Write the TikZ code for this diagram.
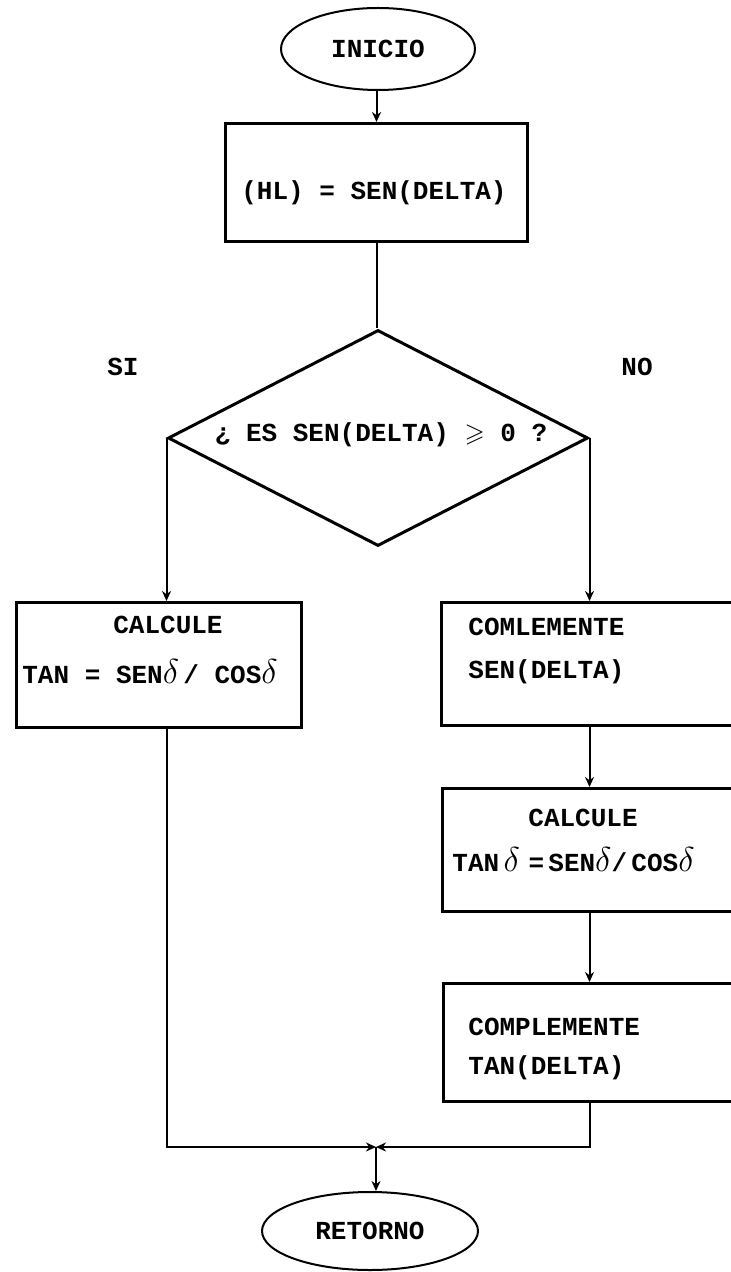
\documentclass[tikz,border=0pt]{standalone}
\usepackage{amsmath}
\usepackage{amssymb}
\usepackage{fontspec}
\newfontfamily\maqfont{Liberation Mono}
\usetikzlibrary{arrows.meta,shapes.geometric}
\newcommand{\dlt}{{\fontsize{18}{18}\selectfont$\delta$}}

\begin{document}
\begin{tikzpicture}[x=0.5pt,y=-0.5pt,>={Stealth[length=5pt,width=4.5pt]},
    caja/.style={draw,line width=1.5pt,inner sep=0pt,anchor=north west},
    ovalo/.style={draw,ellipse,line width=1pt,inner sep=0pt,font=\maqfont\bfseries\fontsize{13}{15}\selectfont},
    texto/.style={font=\maqfont\bfseries\fontsize{13}{15}\selectfont,inner sep=0pt},
    flujo/.style={line width=1pt}]
        \useasboundingbox (0,0) rectangle (731,1272);
        \node [ovalo,minimum width=97pt,minimum height=41pt] (inicio) at (378,49) {INICIO};
        \node [caja,minimum width=151pt,minimum height=59pt] (hl) at (224,122) {};
        \node [texto] (thl) at (374,193) {(HL) = SEN(DELTA)};
        \node [draw,diamond,line width=1.5pt,inner sep=0pt,minimum width=210pt,minimum height=108pt] (dec) at (378,438) {};
        \node [texto] (tdec) at (381,435) {¿ ES SEN(DELTA) $\geqslant$ 0 ?};
        \node [texto] (tsi) at (123,367) {SI};
        \node [texto] (tno) at (637,367) {NO};
        \node [caja,minimum width=142.5pt,minimum height=62.5pt] (cal1) at (15,601) {};
        \node [texto] (tcal1) at (168,625) {CALCULE};
        \node [texto,anchor=west] (tform1) at (22,672) {TAN = SEN\dlt\,/ COS\dlt};
        \node [caja,minimum width=150pt,minimum height=61.5pt] (comp1) at (440,601) {};
        \node [texto,anchor=west] (tcomp1a) at (468,627) {COMLEMENTE};
        \node [texto,anchor=west] (tcomp1b) at (468,672) {SEN(DELTA)};
        \node [caja,minimum width=150pt,minimum height=61.5pt] (cal2) at (441,787) {};
        \node [texto] (tcal2) at (583,818) {CALCULE};
        \node [texto,anchor=west] (tform2) at (452,860) {TAN\,\dlt\,\,=\,SEN\dlt/\,COS\dlt};
        \node [caja,minimum width=150pt,minimum height=59pt] (comp2) at (442,982) {};
        \node [texto,anchor=west] (tcomp2a) at (468,1027) {COMPLEMENTE};
        \node [texto,anchor=west] (tcomp2b) at (468,1068) {TAN(DELTA)};
        \node [ovalo,minimum width=108pt,minimum height=39pt] (retorno) at (370,1231) {RETORNO};
        \coordinate (union) at (376,1147);
        \draw [flujo,->] (hl.north |- inicio.south) -- (hl.north);
        \draw [flujo] (hl.south) -- (hl.south |- dec.north);
        \draw [flujo,->] (dec.west) -- (dec.west |- cal1.north);
        \draw [flujo,->] (dec.east) -- (dec.east |- comp1.north);
        \draw [flujo,->] (dec.east |- comp1.south) -- (dec.east |- cal2.north);
        \draw [flujo,->] (dec.east |- cal2.south) -- (dec.east |- comp2.north);
        \draw [flujo,->] (dec.west |- cal1.south) |- (union);
        \draw [flujo,->] (dec.east |- comp2.south) |- (union);
        \draw [flujo,->] (union) -- (union |- retorno.north);
    \end{tikzpicture}
\end{document}
